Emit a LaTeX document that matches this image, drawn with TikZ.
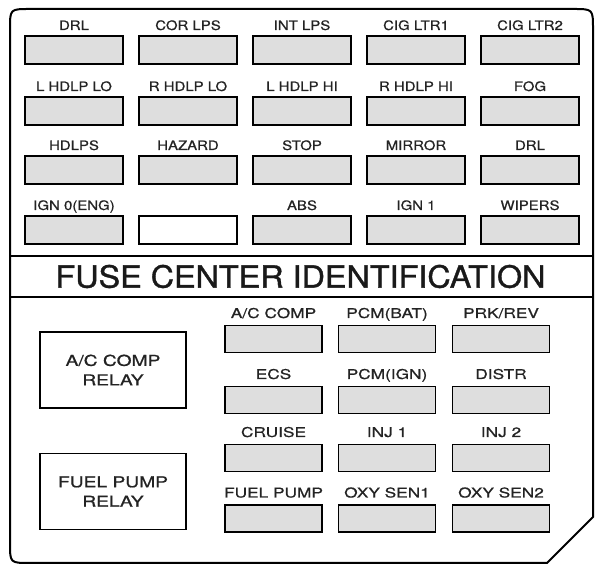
\documentclass[tikz,border=0pt]{standalone}
\usepackage{fontspec}
\newfontfamily\fusefont{TeX Gyre Heros}[FakeStretch=1.15,FakeBold=0.8]
\newfontfamily\fusefontb{TeX Gyre Heros}[FakeStretch=1.28,FakeBold=0.8]
\newfontfamily\titlefont{TeX Gyre Heros}[FakeStretch=1.06,FakeBold=1.2]
\definecolor{fusegray}{RGB}{222,222,222}
\definecolor{schrift}{RGB}{35,35,35}
\tikzset{
	rahmen/.style={line width=2pt},
	sicherung/.style={draw, fill=fusegray, line width=1.6pt, minimum width=98pt, minimum height=28pt, inner sep=0pt},
	beschrift/.style={font=\fusefont\fontsize{13}{13}\selectfont, text=schrift, inner sep=0pt, text height=10pt, text depth=0pt, yshift=5pt},
	beschriftb/.style={beschrift, font=\fusefontb\fontsize{13.5}{13.5}\selectfont, yshift=1.5pt},
	oben/.style={sicherung, label={[beschrift]above:#1}},
	unten/.style={sicherung, minimum width=97pt, minimum height=27pt, label={[beschriftb]above:#1}},
	relais/.style={draw, fill=white, line width=1.6pt, minimum width=146pt, minimum height=76pt, align=center, text=schrift, font=\fusefontb\fontsize{15}{19.5}\selectfont},
	titel/.style={inner sep=0pt, text=black!90, font=\titlefont\fontsize{30.5}{30.5}\selectfont}
}
\begin{document}
\begin{tikzpicture}[x=1pt,y=1pt]
		\useasboundingbox (0,0) rectangle (600,572);
		% Rahmen
		\draw[rahmen] (10,282) -- (10,543) .. controls (10,563) .. (30,563) -- (573,563) .. controls (593,563) .. (593,543) -- (593,55) -- (547,9) -- (30,9) .. controls (10,9) .. (10,29) -- cycle;
		\draw[rahmen] (10,316) -- (593,316);
		\draw[rahmen] (10,275) -- (593,275);
		% Titel
		\node[titel] (titel) at (300.5,295.5) {FUSE CENTER IDENTIFICATION};
		% Sicherungen oben
		\node[oben=DRL] (drl) at (74,522) {};
		\node[oben=COR LPS] (corlps) at (188,522) {};
		\node[oben=INT LPS] (intlps) at (302,522) {};
		\node[oben=CIG LTR1] (cigeins) at (416,522) {};
		\node[oben=CIG LTR2] (cigzwei) at (530,522) {};
		\node[oben=L HDLP LO] (lhdlplo) at (74,461) {};
		\node[oben=R HDLP LO] (rhdlplo) at (188,461) {};
		\node[oben=L HDLP HI] (lhdlphi) at (302,461) {};
		\node[oben=R HDLP HI] (rhdlphi) at (416,461) {};
		\node[oben=FOG] (fog) at (530,461) {};
		\node[oben=HDLPS] (hdlps) at (74,402) {};
		\node[oben=HAZARD] (hazard) at (188,402) {};
		\node[oben=STOP] (stop) at (302,402) {};
		\node[oben=MIRROR] (mirror) at (416,402) {};
		\node[oben=DRL] (drlzwei) at (530,402) {};
		\node[oben=IGN 0(ENG)] (ignnull) at (74,342) {};
		\node[sicherung, fill=white] (leer) at (188,342) {};
		\node[oben=ABS] (abs) at (302,342) {};
		\node[oben=IGN 1] (igneins) at (416,342) {};
		\node[oben=WIPERS] (wipers) at (530,342) {};
		% Relais
		\node[relais] (acrelais) at (113,202) {A/C COMP\\RELAY};
		\node[relais] (fuelrelais) at (113,80.5) {FUEL PUMP\\RELAY};
		% Sicherungen unten
		\node[unten=A/C COMP] (accomp) at (273.5,233) {};
		\node[unten=PCM(BAT)] (pcmbat) at (387,233) {};
		\node[unten=PRK/REV] (prkrev) at (501,233) {};
		\node[unten=ECS] (ecs) at (273.5,172) {};
		\node[unten=PCM(IGN)] (pcmign) at (387,172) {};
		\node[unten=DISTR] (distr) at (501,172) {};
		\node[unten=CRUISE] (cruise) at (273.5,114) {};
		\node[unten=INJ 1] (injeins) at (387,114) {};
		\node[unten=INJ 2] (injzwei) at (501,114) {};
		\node[unten=FUEL PUMP] (fuelpump) at (273.5,53.5) {};
		\node[unten=OXY SEN1] (oxyeins) at (387,53.5) {};
		\node[unten=OXY SEN2] (oxyzwei) at (501,53.5) {};
	\end{tikzpicture}
\end{document}
